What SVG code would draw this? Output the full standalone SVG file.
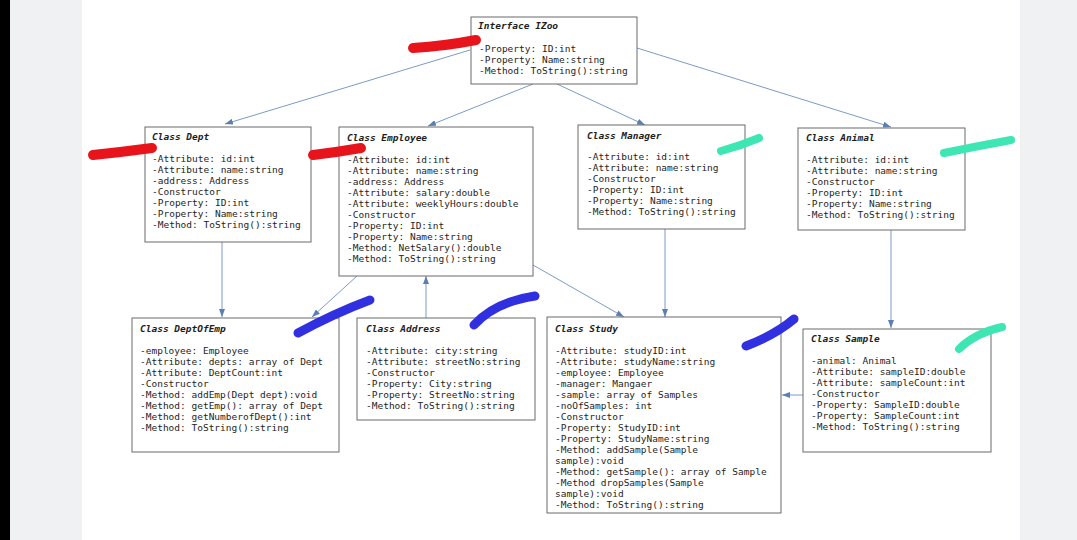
<svg xmlns="http://www.w3.org/2000/svg" width="1077" height="540" viewBox="0 0 1077 540">
<defs>
<marker id="arr" markerWidth="8" markerHeight="6" refX="8" refY="3" orient="auto" markerUnits="userSpaceOnUse">
<path d="M0,0 L8,3 L0,6 z" fill="#5a7fb0"/>
</marker>
<style>
.box{fill:#ffffff;stroke:#6a6a6a;stroke-width:1}
text{font-family:"DejaVu Sans Mono","Liberation Mono",monospace;font-size:9.5px;fill:#1e1e1e}
.t{font-weight:bold;font-style:italic}
.c{stroke:#6f8fbd;stroke-width:0.9;fill:none;marker-end:url(#arr)}
.red{stroke:#e8141c;stroke-width:10;stroke-linecap:round;fill:none}
.blue{stroke:#3030e0;stroke-width:9;stroke-linecap:round;fill:none}
.teal{stroke:#3ee6b4;stroke-width:8;stroke-linecap:round;fill:none}
</style>
</defs>
<rect x="0" y="0" width="1077" height="540" fill="#ffffff"/>
<rect x="0" y="0" width="10" height="540" fill="#000000"/>
<rect x="10" y="0" width="72" height="540" fill="#f0f1f3"/>
<rect x="1020" y="0" width="57" height="540" fill="#f0f1f3"/>

<g id="connectors">
<line class="c" x1="470" y1="50" x2="225" y2="124"/>
<line class="c" x1="533" y1="84" x2="428" y2="126"/>
<line class="c" x1="557" y1="84" x2="645" y2="125"/>
<line class="c" x1="637" y1="48" x2="891" y2="127"/>
<line class="c" x1="222" y1="242" x2="222" y2="317"/>
<line class="c" x1="357" y1="276" x2="312" y2="317"/>
<line class="c" x1="426" y1="318" x2="426" y2="276"/>
<line class="c" x1="533" y1="265" x2="624" y2="317"/>
<line class="c" x1="665" y1="229" x2="665" y2="317"/>
<line class="c" x1="891" y1="230" x2="891" y2="328"/>
<line class="c" x1="803" y1="395" x2="782" y2="395"/>
</g>

<g id="izoo">
<rect class="box" x="471" y="17" width="166" height="67"/>
<text class="t" x="478" y="29">Interface IZoo</text>
<text x="479" y="52">-Property: ID:int</text>
<text x="479" y="63">-Property: Name:string</text>
<text x="479" y="74">-Method: ToString():string</text>
</g>

<g id="dept">
<rect class="box" x="145" y="127" width="166" height="115"/>
<text class="t" x="152" y="140">Class Dept</text>
<text x="152" y="162">-Attribute: id:int</text>
<text x="152" y="173">-Attribute: name:string</text>
<text x="152" y="184">-address: Address</text>
<text x="152" y="195">-Constructor</text>
<text x="152" y="206">-Property: ID:int</text>
<text x="152" y="217">-Property: Name:string</text>
<text x="152" y="228">-Method: ToString():string</text>
</g>

<g id="employee">
<rect class="box" x="339" y="127" width="194" height="149"/>
<text class="t" x="347" y="140.5">Class Employee</text>
<text x="347" y="162.5">-Attribute: id:int</text>
<text x="347" y="173.5">-Attribute: name:string</text>
<text x="347" y="184.5">-address: Address</text>
<text x="347" y="195.5">-Attribute: salary:double</text>
<text x="347" y="206.5">-Attribute: weeklyHours:double</text>
<text x="347" y="217.5">-Constructor</text>
<text x="347" y="228.5">-Property: ID:int</text>
<text x="347" y="239.5">-Property: Name:string</text>
<text x="347" y="250.5">-Method: NetSalary():double</text>
<text x="347" y="261.5">-Method: ToString():string</text>
</g>

<g id="manager">
<rect class="box" x="578" y="125" width="167" height="104"/>
<text class="t" x="587" y="138.5">Class Manager</text>
<text x="587" y="159.5">-Attribute: id:int</text>
<text x="587" y="170.5">-Attribute: name:string</text>
<text x="587" y="181.5">-Constructor</text>
<text x="587" y="192.5">-Property: ID:int</text>
<text x="587" y="203.5">-Property: Name:string</text>
<text x="587" y="214.5">-Method: ToString():string</text>
</g>

<g id="animal">
<rect class="box" x="798" y="128" width="167" height="102"/>
<text class="t" x="806" y="140.5">Class Animal</text>
<text x="806" y="162.5">-Attribute: id:int</text>
<text x="806" y="173.5">-Attribute: name:string</text>
<text x="806" y="184.5">-Constructor</text>
<text x="806" y="195.5">-Property: ID:int</text>
<text x="806" y="206.5">-Property: Name:string</text>
<text x="806" y="217.5">-Method: ToString():string</text>
</g>

<g id="deptofemp">
<rect class="box" x="132" y="318" width="207" height="134"/>
<text class="t" x="140" y="331.5">Class DeptOfEmp</text>
<text x="140" y="353.5">-employee: Employee</text>
<text x="140" y="364.5">-Attribute: depts: array of Dept</text>
<text x="140" y="375.5">-Attribute: DeptCount:int</text>
<text x="140" y="386.5">-Constructor</text>
<text x="140" y="397.5">-Method: addEmp(Dept dept):void</text>
<text x="140" y="408.5">-Method: getEmp(): array of Dept</text>
<text x="140" y="419.5">-Method: getNumberofDept():int</text>
<text x="140" y="430.5">-Method: ToString():string</text>
</g>

<g id="address">
<rect class="box" x="357" y="318" width="178" height="102"/>
<text class="t" x="366" y="331.5">Class Address</text>
<text x="366" y="354">-Attribute: city:string</text>
<text x="366" y="365">-Attribute: streetNo:string</text>
<text x="366" y="376">-Constructor</text>
<text x="366" y="387">-Property: City:string</text>
<text x="366" y="398">-Property: StreetNo:string</text>
<text x="366" y="409">-Method: ToString():string</text>
</g>

<g id="study">
<rect class="box" x="547" y="317" width="234" height="196"/>
<text class="t" x="555" y="331.5">Class Study</text>
<text x="555" y="353.5">-Attribute: studyID:int</text>
<text x="555" y="364.5">-Attribute: studyName:string</text>
<text x="555" y="375.5">-employee: Employee</text>
<text x="555" y="386.5">-manager: Mangaer</text>
<text x="555" y="397.5">-sample: array of Samples</text>
<text x="555" y="408.5">-noOfSamples: int</text>
<text x="555" y="419.5">-Constructor</text>
<text x="555" y="430.5">-Property: StudyID:int</text>
<text x="555" y="441.5">-Property: StudyName:string</text>
<text x="555" y="452.5">-Method: addSample(Sample</text>
<text x="555" y="463.5">sample):void</text>
<text x="555" y="474.5">-Method: getSample(): array of Sample</text>
<text x="555" y="485.5">-Method dropSamples(Sample</text>
<text x="555" y="496.5">sample):void</text>
<text x="555" y="507.5">-Method: ToString():string</text>
</g>

<g id="sample">
<rect class="box" x="803" y="329" width="188" height="123"/>
<text class="t" x="811" y="341.5">Class Sample</text>
<text x="811" y="363.5">-animal: Animal</text>
<text x="811" y="374.5">-Attribute: sampleID:double</text>
<text x="811" y="385.5">-Attribute: sampleCount:int</text>
<text x="811" y="396.5">-Constructor</text>
<text x="811" y="407.5">-Property: SampleID:double</text>
<text x="811" y="418.5">-Property: SampleCount:int</text>
<text x="811" y="429.5">-Method: ToString():string</text>
</g>

<g id="marks">
<path class="red" d="M413,48 Q445,46 476,40"/>
<path class="red" d="M93,155 Q122,152 152,148"/>
<path class="red" d="M313,155 Q338,152 361,148"/>
<path class="teal" d="M721,151 Q740,146 759,138"/>
<path class="teal" d="M944,153 Q978,146 1011,140"/>
<path class="blue" d="M298,333 Q335,313 370,300"/>
<path class="blue" d="M474,325 Q495,302 535,296"/>
<path class="blue" d="M746,346 Q775,335 794,319"/>
<path class="teal" d="M959,349 Q975,333 1002,327"/>
</g>
</svg>
